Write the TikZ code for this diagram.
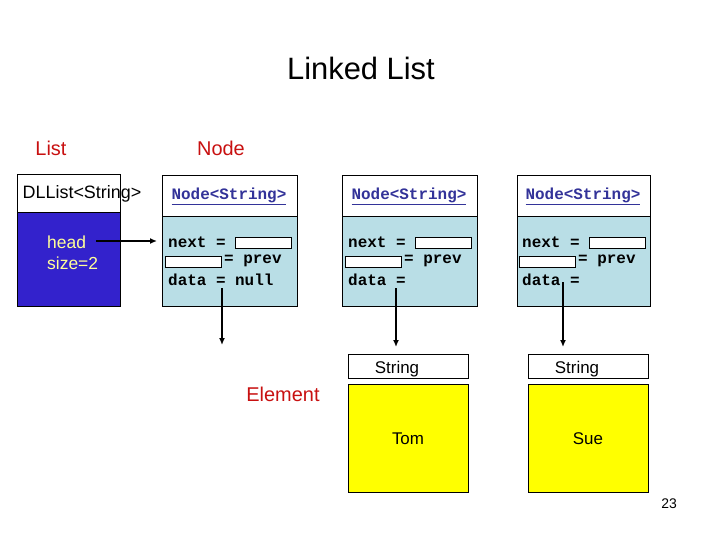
\documentclass[tikz,border=0pt]{standalone}
\usepackage{fontspec}
\setmainfont{Liberation Sans}
\setmonofont{Liberation Mono}
\usetikzlibrary{arrows.meta}
\definecolor{dlblue}{RGB}{51,34,204}
\definecolor{nodebody}{RGB}{185,222,230}
\definecolor{elyellow}{RGB}{255,255,0}
\definecolor{lblred}{RGB}{200,16,16}
\definecolor{headtxt}{RGB}{255,255,153}
\definecolor{ntitle}{RGB}{51,51,153}
\newcommand{\fs}[1]{\fontsize{#1}{#1}\selectfont}
\tikzset{
  boxr/.style={draw=black, line width=0.8bp, anchor=north west, inner sep=0pt, outer sep=0pt},
  small/.style={draw=black, fill=white, line width=0.8bp, anchor=north west, minimum width=56bp, minimum height=11.5bp, inner sep=0pt, outer sep=0pt},
  mono/.style={inner sep=0pt, anchor=west, font=\ttfamily\bfseries\fs{16}},
  ntitlestyle/.style={inner sep=0pt, font=\ttfamily\bfseries\fs{16}, text=ntitle},
  lbl/.style={inner sep=0pt, font=\fs{20}, text=lblred},
  arr/.style={line width=1.8bp, -{Latex[length=7bp,width=6bp]}},
}
\begin{document}
\begin{tikzpicture}[x=1bp,y=-1bp]
\useasboundingbox (0,0) rectangle (720,540);
% title and labels
\node[inner sep=0pt, font=\fs{31}] (title) at (361,68) {Linked List};
\node[lbl] (llist) at (51,148) {List};
\node[lbl] (lnode) at (221,148) {Node};
\node[lbl] (lelem) at (283,394) {Element};
\node[inner sep=0pt, font=\fs{14}] (pg) at (669,504) {23};
% DLList
\node[boxr, fill=white, minimum width=103bp, minimum height=38bp] (dlh) at (17,174) {};
\node[boxr, fill=dlblue, minimum width=103bp, minimum height=94bp] (dlb) at (17,212) {};
\node[inner sep=0pt, font=\fs{18}] (dlt) at (82,194) {DLList<String>};
\node[inner sep=0pt, anchor=west, font=\fs{17.5}, text=headtxt] (hd) at (47,242) {head};
\node[inner sep=0pt, anchor=west, font=\fs{17.5}, text=headtxt] (sz) at (47,263) {size=2};
% Node boxes
\foreach \nm/\x/\w in {n1/162/135, n2/342/135, n3/517/133}{
  \node[boxr, fill=white, minimum width=\w bp, minimum height=41bp] (\nm h) at (\x,175) {};
  \node[boxr, fill=nodebody, minimum width=\w bp, minimum height=90bp] (\nm b) at (\x,216) {};
}
\node[ntitlestyle] (n1t) at (229,196) {\underline{Node<String>}};
\node[ntitlestyle] (n2t) at (409,196) {\underline{Node<String>}};
\node[ntitlestyle] (n3t) at (583,196) {\underline{Node<String>}};
% node 1 body
\node[mono] (n1next) at (168,242) {next =};
\node[small] (n1nb) at (235,237) {};
\node[small] (n1pb) at (165,256) {};
\node[mono] (n1prev) at (224,261) {= prev};
\node[mono] (n1data) at (168,280) {data = null};
% node 2 body
\node[mono] (n2next) at (348,242) {next =};
\node[small] (n2nb) at (415,237) {};
\node[small] (n2pb) at (345,256) {};
\node[mono] (n2prev) at (404,261) {= prev};
\node[mono] (n2data) at (348,280) {data =};
% node 3 body
\node[mono] (n3next) at (522,242) {next =};
\node[small] (n3nb) at (589,237) {};
\node[small] (n3pb) at (519,256) {};
\node[mono] (n3prev) at (578,261) {= prev};
\node[mono] (n3data) at (522,280) {data =};
% String elements
\node[boxr, fill=white, minimum width=120bp, minimum height=24bp] (s1h) at (348,354) {};
\node[boxr, fill=elyellow, minimum width=120bp, minimum height=108bp] (s1b) at (348,384) {};
\node[boxr, fill=white, minimum width=120bp, minimum height=24bp] (s2h) at (528,354) {};
\node[boxr, fill=elyellow, minimum width=120bp, minimum height=108bp] (s2b) at (528,384) {};
\node[inner sep=0pt, font=\fs{17}] (s1t) at (397,369) {String};
\node[inner sep=0pt, font=\fs{17}] (s2t) at (577,369) {String};
\node[inner sep=0pt, font=\fs{17}] (tom) at (408,439) {Tom};
\node[inner sep=0pt, font=\fs{17}] (sue) at (588,439) {Sue};
% connectors
\coordinate (hs) at (96,241);
\coordinate (d1) at (222,288);
\coordinate (d1e) at (222,345);
\coordinate (d2) at (396,288);
\coordinate (d3) at (563,282);
\draw[arr, shorten >=5bp] (hs) -- (hs -| n1b.west);
\draw[arr] (d1) -- (d1e);
\draw[arr, shorten >=7bp] (d2) -- (d2 |- s1h.north);
\draw[arr, shorten >=7bp] (d3) -- (d3 |- s2h.north);
\end{tikzpicture}
\end{document}
